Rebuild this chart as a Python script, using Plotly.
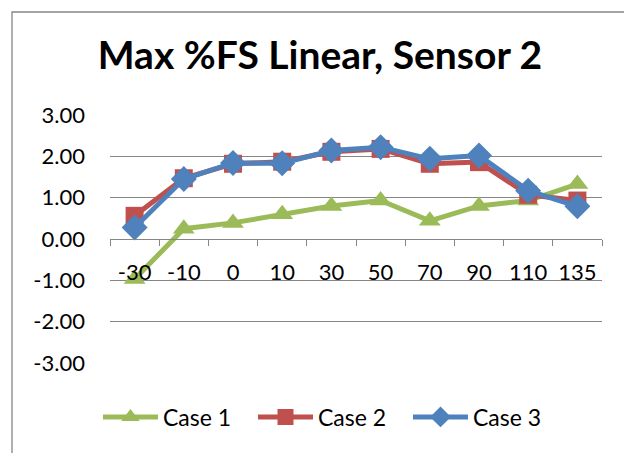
import plotly.graph_objects as go

categories = ["-30", "-10", "0", "10", "30", "50", "70", "90", "110", "135"]
case1 = [-0.97, 0.25, 0.39, 0.6, 0.8, 0.93, 0.44, 0.8, 0.93, 1.33]
case2 = [0.56, 1.47, 1.82, 1.87, 2.11, 2.18, 1.82, 1.86, 1.07, 0.93]
case3 = [0.28, 1.45, 1.84, 1.83, 2.14, 2.22, 1.94, 2.02, 1.17, 0.79]
y_ticks = [-3, -2, -1, 0, 1, 2, 3]

# page body has an 8px margin, so work in page coordinates minus 8
OFF = 8
W, H = 632 - OFF, 453 - OFF
L, T = 110 - OFF, 115 - OFF
PR, PB = 602 - OFF, 363 - OFF
R, B = W - PR, H - PB
pw, ph = PR - L, PB - T

FONT = "Lato"
GRID = "#868686"

fig = go.Figure()
series = [
    ("Case 1", case1, "#9BBB59", "triangle-up", 19),
    ("Case 2", case2, "#C0504D", "square", 18),
    ("Case 3", case3, "#4F81BD", "diamond", 20),
]
for name, vals, col, sym, size in series:
    fig.add_trace(go.Scatter(
        x=categories, y=vals, name=name, mode="lines+markers",
        line=dict(color=col, width=5),
        marker=dict(symbol=sym, size=size, color=col),
    ))

def px_x(p):
    return (p - OFF - L) / pw

def px_y(p):
    return (PB - (p - OFF)) / ph

fig.add_shape(type="rect", xref="paper", yref="paper",
              x0=px_x(12), x1=px_x(628), y0=px_y(480), y1=px_y(12),
              line=dict(color=GRID, width=1.3), layer="below")

fig.update_layout(
    width=W, height=H,
    margin=dict(l=L, r=R, t=T, b=B),
    paper_bgcolor="white", plot_bgcolor="white",
    font=dict(family=FONT, size=22, color="black"),
    title=dict(text="<b>Max %FS Linear, Sensor 2</b>", x=(320 - OFF) / W, xref="container",
               y=1 - (55 - OFF) / H, yref="container", xanchor="center", yanchor="middle",
               font=dict(family=FONT, size=39, color="black")),
    showlegend=True,
    legend=dict(orientation="h", x=px_x(98), y=px_y(417), xanchor="left",
                yanchor="middle", font=dict(family=FONT, size=23), itemwidth=55,
                entrywidth=85, entrywidthmode="pixels",
                bgcolor="rgba(0,0,0,0)", traceorder="normal"),
    xaxis=dict(type="category", anchor="free", position=0.5, showline=True,
               linecolor=GRID, linewidth=1.3, ticks="outside", tickson="boundaries",
               ticklen=6, tickcolor=GRID, showgrid=False, zeroline=False,
               ticklabelstandoff=13,
               range=[-0.5, len(categories) - 0.5], tickfont=dict(size=22)),
    yaxis=dict(range=[-3, 3], tickvals=y_ticks,
               ticktext=[f"{v:.2f}" for v in y_ticks], showgrid=True,
               gridcolor=GRID, gridwidth=1.3, zeroline=False, showline=False,
               ticks="", ticklabelstandoff=24, tickfont=dict(size=22)),
)

fig.write_html("out.html")
